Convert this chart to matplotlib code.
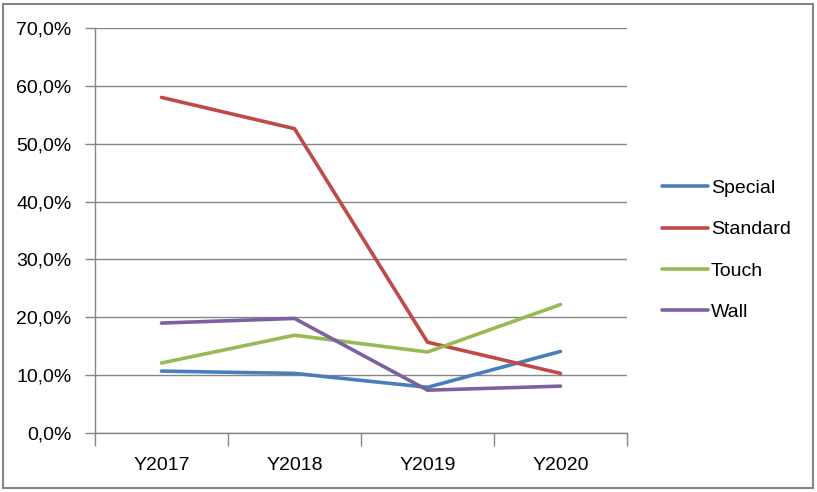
import matplotlib
matplotlib.use("Agg")
import matplotlib.pyplot as plt
from matplotlib.ticker import FuncFormatter
from matplotlib.patches import Rectangle

categories = ["Y2017", "Y2018", "Y2019", "Y2020"]
special = [10.7, 10.3, 7.9, 14.1]
standard = [58.0, 52.6, 15.7, 10.3]
touch = [12.1, 16.9, 14.0, 22.2]
wall = [19.0, 19.8, 7.4, 8.1]

series_names = ["Special", "Standard", "Touch", "Wall"]
series_values = [special, standard, touch, wall]
colors = ["#4A7EBB", "#BE4B48", "#98B954", "#7D60A0"]

plt.rcParams['font.family'] = ['Liberation Sans', 'DejaVu Sans']

W, H = 817, 492
fig = plt.figure(figsize=(W / 100, H / 100), dpi=100)
fig.patches.append(Rectangle((3 / W, 4 / H), (W - 7) / W, (H - 8) / H, transform=fig.transFigure,
                             fill=False, edgecolor="#868686", linewidth=1.5))

left, right, top, bottom = 95, 627, 28, 433
ax = fig.add_axes([left / W, 1 - bottom / H, (right - left) / W, (bottom - top) / H])

x = range(len(categories))
lines = []
for name, vals, c in zip(series_names, series_values, colors):
    ln, = ax.plot(x, vals, color=c, linewidth=2.6, label=name, solid_capstyle="round")
    lines.append(ln)

ax.set_xlim(-0.5, len(categories) - 0.5)
ax.set_ylim(0, 70)
ax.set_yticks(range(0, 71, 10))
ax.yaxis.set_major_formatter(FuncFormatter(lambda v, p: f"{v:.1f}%".replace(".", ",")))
ax.set_xticks(list(x))
ax.set_xticklabels(categories)
ax.set_xticks([i - 0.5 for i in range(len(categories) + 1)], minor=True)
ax.tick_params(axis="x", which="major", length=0, pad=17, labelsize=14)
ax.tick_params(axis="x", which="minor", length=9, color="#868686", width=1)
ax.tick_params(axis="y", length=7, color="#868686", width=1, labelsize=14, pad=10)
ax.grid(axis="y", color="#868686", linewidth=1)
ax.set_axisbelow(True)
for s in ["top", "right"]:
    ax.spines[s].set_visible(False)
for s in ["left", "bottom"]:
    ax.spines[s].set_color("#868686")
    ax.spines[s].set_linewidth(1)

leg = fig.legend(handles=lines, labels=series_names, loc="upper left",
                 bbox_to_anchor=(644 / W, 1 - 162 / H), frameon=False, fontsize=14,
                 handlelength=2.4, handletextpad=0.15, labelspacing=1.22)

fig.savefig("out.png", dpi=100)
